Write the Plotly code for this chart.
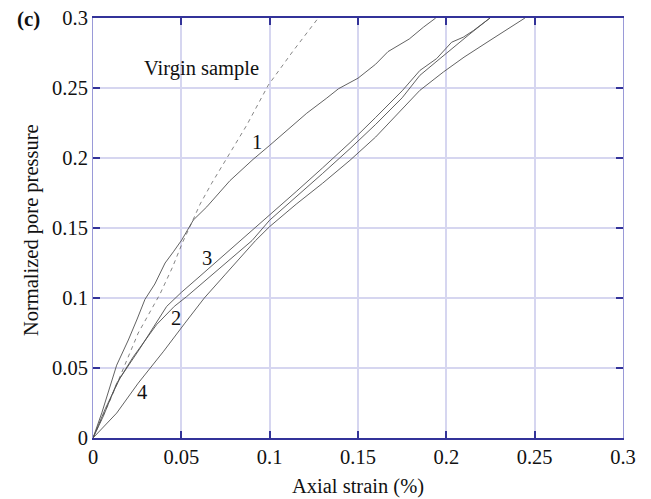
import plotly.graph_objects as go

# ---- data ----
virgin_x = [0, 0.01, 0.0256, 0.038, 0.045, 0.0508, 0.0549, 0.0606, 0.0672, 0.077, 0.087, 0.0992, 0.113, 0.1275]
virgin_y = [0, 0.028, 0.075, 0.103, 0.122, 0.140, 0.151, 0.167, 0.182, 0.203, 0.2234, 0.252, 0.276, 0.3]

c1_x = [0, 0.005, 0.0134, 0.02, 0.025, 0.0294, 0.035, 0.0408, 0.0455, 0.0502, 0.0568, 0.0644, 0.0775,
        0.0906, 0.1, 0.11, 0.121, 0.132, 0.139, 0.15, 0.16, 0.167, 0.179, 0.187, 0.194]
c1_y = [0, 0.018, 0.052, 0.07, 0.085, 0.099, 0.11, 0.125, 0.133, 0.1414, 0.1557, 0.1651, 0.1838,
        0.199, 0.209, 0.22, 0.232, 0.2425, 0.2495, 0.257, 0.267, 0.276, 0.285, 0.2934, 0.3]

c2_x = [0, 0.006, 0.0134, 0.0228, 0.036, 0.046, 0.053, 0.065, 0.078, 0.09, 0.1, 0.115, 0.13, 0.1455,
        0.16, 0.175, 0.185, 0.1964, 0.204, 0.2134, 0.2247]
c2_y = [0, 0.016, 0.039, 0.058, 0.081, 0.094, 0.101, 0.114, 0.128, 0.141, 0.1556, 0.172, 0.189, 0.2067,
        0.224, 0.243, 0.259, 0.271, 0.2792, 0.2887, 0.3]

c3_x = [0, 0.007, 0.0153, 0.0266, 0.0417, 0.05, 0.06, 0.07, 0.08, 0.09, 0.1, 0.115, 0.13, 0.1455,
        0.16, 0.175, 0.185, 0.1945, 0.203, 0.2096, 0.2153, 0.2247]
c3_y = [0, 0.021, 0.0428, 0.064, 0.094, 0.104, 0.115, 0.126, 0.137, 0.148, 0.159, 0.176, 0.193, 0.211,
        0.229, 0.248, 0.2625, 0.271, 0.2827, 0.2863, 0.291, 0.3]

c4_x = [0, 0.0134, 0.0256, 0.04, 0.052, 0.063, 0.075, 0.085, 0.092, 0.1, 0.115, 0.13, 0.1455, 0.16,
        0.175, 0.185, 0.1983, 0.21, 0.2247, 0.2445]
c4_y = [0, 0.0178, 0.0392, 0.062, 0.082, 0.1, 0.117, 0.131, 0.141, 0.151, 0.167, 0.182, 0.1984, 0.215,
        0.235, 0.2483, 0.2614, 0.272, 0.284, 0.3]

tick_vals = [0, 0.05, 0.1, 0.15, 0.2, 0.25, 0.3]
tick_text = ["0", "0.05", "0.1", "0.15", "0.2", "0.25", "0.3"]

curve_labels = ["Virgin sample", "1", "2", "3", "4"]
label_x = [0.0615, 0.0926, 0.047, 0.0644, 0.0276]
label_y = [0.2638, 0.2115, 0.0855, 0.1283, 0.0332]

FONT = "Liberation Serif"
LINE = "#505050"
FS = 20.5

fig = go.Figure()
fig.add_trace(go.Scatter(x=virgin_x, y=virgin_y, mode="lines",
                         line=dict(color="#666666", width=0.8, dash="4px,4px")))
for xs, ys in [(c1_x, c1_y), (c2_x, c2_y), (c3_x, c3_y), (c4_x, c4_y)]:
    fig.add_trace(go.Scatter(x=xs, y=ys, mode="lines", line=dict(color=LINE, width=0.9)))

for t, x, y in zip(curve_labels, label_x, label_y):
    fig.add_annotation(x=x, y=y, text=t, showarrow=False,
                       font=dict(family=FONT, size=FS, color="#111"))

fig.add_annotation(xref="paper", yref="paper", x=0.5, y=-0.1157, yanchor="middle",
                   text="Axial strain (%)", showarrow=False,
                   font=dict(family=FONT, size=FS, color="#111"))
fig.add_annotation(xref="paper", yref="paper", x=-0.117, y=0.495, xanchor="center", yanchor="middle",
                   text="Normalized pore pressure", textangle=-90, showarrow=False,
                   font=dict(family=FONT, size=FS, color="#111"))
fig.add_annotation(xref="paper", yref="paper", x=-0.148, y=1.0, xanchor="left", yanchor="middle",
                   text="<b>(c)</b>", showarrow=False, yshift=-1,
                   font=dict(family=FONT, size=21, color="#111"))

axis_common = dict(
    range=[0, 0.3], tickvals=tick_vals, ticktext=tick_text,
    showgrid=True, gridcolor="#d6d6f0", gridwidth=2,
    zeroline=False, showline=True, mirror="ticks",
    ticks="inside", ticklen=7, tickcolor="#333399", tickwidth=1.5,
    tickfont=dict(family=FONT, size=FS, color="#111"),
    automargin=False, ticklabeloverflow="allow",
)

fig.update_xaxes(**axis_common, linecolor="#333399", linewidth=1.5)
fig.update_yaxes(**axis_common, linecolor="#9a9ad8", linewidth=1)

fig.update_layout(
    width=651, height=499,
    margin=dict(l=85, r=36, t=10, b=69),
    plot_bgcolor="white", paper_bgcolor="white",
    showlegend=False,
)

fig.write_html("out.html")
